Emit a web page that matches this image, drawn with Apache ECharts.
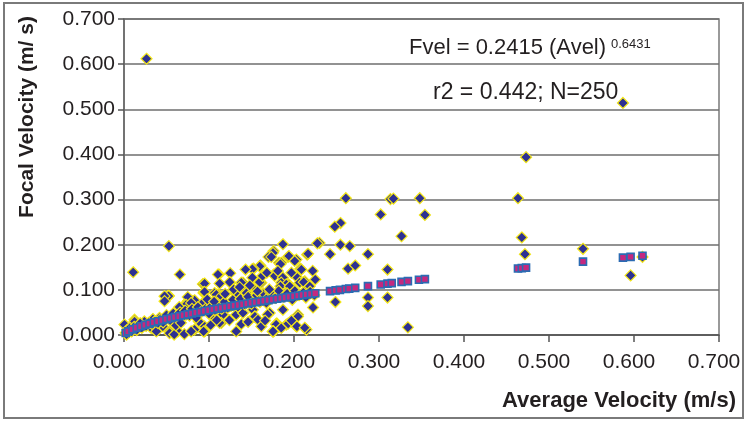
<!DOCTYPE html>
<html>
<head>
<meta charset="utf-8">
<script src="https://cdn.jsdelivr.net/npm/echarts@6/dist/echarts.min.js"></script>
<style>
    html, body { margin: 0; padding: 0; background: #fff; }
    #velocity-chart { width: 747px; height: 421px; }
</style>
</head>
<body>
<div id="velocity-chart"></div>
<script>
    // measured points: [average velocity, focal velocity] in m/s
    const measured = [
        [0.0265,0.612],[0.587,0.514],[0.473,0.394],[0.0528,0.197],[0.0108,0.139],[0.0657,0.134],
        [0.261,0.303],[0.3135,0.301],[0.317,0.302],[0.348,0.303],[0.4635,0.303],[0.2547,0.248],
        [0.248,0.240],[0.302,0.267],[0.354,0.266],[0.3265,0.219],[0.468,0.216],[0.4717,0.179],
        [0.540,0.191],[0.610,0.173],[0.596,0.132],[0.230,0.204],[0.2424,0.179],[0.2546,0.200],
        [0.2656,0.197],[0.287,0.179],[0.2636,0.147],[0.272,0.154],[0.310,0.145],[0.2487,0.073],
        [0.287,0.083],[0.287,0.064],[0.310,0.083],[0.334,0.017],

        [0.187,0.201],[0.2275,0.203],[0.176,0.186],[0.1753,0.182],[0.170,0.173],[0.1733,0.173],
        [0.193,0.173],[0.194,0.175],[0.2155,0.178],[0.2165,0.180],[0.2028,0.167],[0.2008,0.164],
        [0.1823,0.160],[0.185,0.160],[0.184,0.157],[0.1604,0.154],[0.1596,0.152],[0.2075,0.147],
        [0.2087,0.145],[0.1525,0.147],[0.151,0.146],[0.143,0.145],[0.125,0.137],[0.1117,0.134],
        [0.1105,0.134],[0.176,0.134],[0.1773,0.131],[0.2028,0.129],[0.187,0.127],[0.151,0.127],
        [0.2067,0.116],[0.2126,0.119],[0.2114,0.117],[0.1596,0.119],[0.1616,0.116],[0.1596,0.117],
        [0.185,0.116],[0.194,0.112],[0.191,0.112],[0.184,0.108],[0.195,0.108],[0.2165,0.104],
        [0.2185,0.108],[0.140,0.116],[0.138,0.116],[0.125,0.116],[0.1243,0.117],[0.1125,0.114],
        [0.0936,0.112],[0.0928,0.113],[0.0948,0.114],[0.1517,0.104],[0.144,0.100],[0.143,0.097],
        [0.0936,0.093],[0.094,0.0947],[0.0948,0.0955],[0.1066,0.093],[0.1105,0.0895],[0.1086,0.0895],
        [0.1145,0.086],[0.132,0.093],[0.1313,0.093],[0.144,0.093],

        [0.1517,0.071],[0.147,0.075],[0.1675,0.071],[0.2224,0.061],[0.1517,0.056],[0.187,0.056],
        [0.1714,0.049],[0.1537,0.041],[0.154,0.041],[0.169,0.045],[0.2047,0.045],[0.2047,0.041],
        [0.132,0.045],[0.140,0.049],[0.126,0.064],[0.1164,0.045],[0.1046,0.041],[0.1007,0.049],
        [0.1576,0.034],[0.1616,0.019],[0.180,0.025],[0.1793,0.025],[0.179,0.023],[0.191,0.023],
        [0.193,0.025],[0.2028,0.019],[0.2035,0.019],[0.2146,0.012],[0.2126,0.016],[0.185,0.0155],
        [0.176,0.008],[0.175,0.008],[0.1753,0.008],[0.132,0.008],[0.1145,0.0267],[0.1125,0.027],
        [0.0948,0.019],[0.0948,0.008],[0.0936,0.008],[0.083,0.012],[0.081,0.075],[0.083,0.077],
        [0.0928,0.071],[0.083,0.056],[0.075,0.075],[0.075,0.084],[0.0713,0.067],[0.073,0.067],
        [0.079,0.071],[0.065,0.062],[0.0528,0.087],[0.0516,0.086],[0.0524,0.086],[0.0477,0.086],
        [0.0477,0.075],[0.0556,0.034],[0.0645,0.038],[0.073,0.045],[0.0418,0.038],[0.034,0.0355],
        [0.024,0.030],[0.0124,0.034],[0.0124,0.030],[0.0006,0.023],[0.018,0.023],[0.032,0.0155],
        [0.0457,0.019],[0.0536,0.008],[0.0536,0.004],[0.0634,0.008],[0.059,0.001],[0.071,0.002],
        [0.079,0.008],[0.038,0.008],

        [0.002,0.005],[0.004,0.012],[0.003,0.001],[0.007,0.016],[0.009,0.008],[0.012,0.018],
        [0.015,0.011],[0.019,0.026],[0.021,0.016],[0.026,0.020],[0.029,0.027],[0.033,0.024],
        [0.036,0.030],[0.040,0.026],[0.043,0.035],[0.046,0.028],

        [0.050,0.044],[0.055,0.031],[0.058,0.048],[0.062,0.036],[0.066,0.050],[0.069,0.040],
        [0.072,0.054],[0.077,0.043],[0.080,0.058],[0.084,0.046],[0.087,0.062],[0.090,0.050],
        [0.097,0.060],[0.100,0.047],[0.103,0.065],[0.107,0.055],[0.110,0.070],[0.115,0.058],
        [0.118,0.073],[0.122,0.060],[0.128,0.078],[0.134,0.062],[0.137,0.080],[0.142,0.068],
        [0.146,0.085],[0.150,0.069],[0.156,0.088],[0.160,0.073],[0.164,0.092],[0.168,0.080],
        [0.172,0.095],[0.178,0.082],[0.182,0.098],[0.188,0.085],[0.192,0.092],[0.198,0.078],
        [0.201,0.098],[0.206,0.088],[0.211,0.094],[0.214,0.083],[0.219,0.096],[0.224,0.088],

        [0.098,0.079],[0.106,0.074],[0.119,0.091],[0.129,0.101],[0.136,0.106],[0.148,0.110],
        [0.157,0.097],[0.163,0.131],[0.168,0.138],[0.171,0.101],[0.181,0.142],[0.197,0.138],
        [0.222,0.142],[0.225,0.123],[0.088,0.030],[0.102,0.022],[0.124,0.033],[0.138,0.024],
        [0.146,0.029],[0.166,0.032],[0.197,0.032],[0.061,0.021],[0.067,0.027],[0.085,0.038],
        [0.109,0.033]
    ];

    // regression points (Fvel = 0.2415 Avel^0.6431) as plotted
    const fitted = [
        [0.002,0.0044],[0.005,0.0080],[0.010,0.0125],[0.015,0.0162],[0.020,0.0195],[0.025,0.0225],
        [0.030,0.0253],[0.035,0.0280],[0.040,0.0305],[0.045,0.0329],[0.050,0.0352],[0.055,0.0374],
        [0.060,0.0396],[0.065,0.0416],[0.070,0.0437],[0.075,0.0457],[0.080,0.0476],[0.085,0.0495],
        [0.090,0.0513],[0.095,0.0532],[0.100,0.0549],[0.105,0.0567],[0.110,0.0584],[0.115,0.0601],
        [0.120,0.0618],[0.125,0.0634],[0.130,0.0650],[0.135,0.0666],[0.140,0.0682],[0.145,0.0698],
        [0.150,0.0713],[0.155,0.0728],[0.160,0.0743],[0.165,0.0758],[0.170,0.0773],[0.175,0.0787],
        [0.180,0.0802],[0.185,0.0816],[0.190,0.0830],[0.195,0.0844],[0.200,0.0858],[0.205,0.0872],
        [0.210,0.0885],[0.215,0.0899],[0.220,0.0912],[0.225,0.0925],[0.2424,0.0971],[0.249,0.0988],
        [0.254,0.1000],[0.261,0.1018],[0.265,0.1028],[0.272,0.1045],[0.287,0.1082],[0.302,0.1118],
        [0.310,0.1137],[0.315,0.1149],[0.3265,0.1176],[0.334,0.1193],[0.347,0.1223],[0.354,0.1238],
        [0.4635,0.1473],[0.468,0.1482],[0.473,0.1492],[0.540,0.1625],[0.587,0.1714],[0.596,0.1731],
        [0.610,0.1757]
    ];

    const equationText = 'Fvel = 0.2415 (Avel)';
    const exponentText = '0.6431';
    const statsText = 'r2 = 0.442; N=250';

    const font = '"Liberation Sans", Arial, Helvetica, sans-serif';
    const ink = '#231f20';

    let myChart = echarts.init(document.getElementById('velocity-chart'));

    let option = {
        animation: false,
        backgroundColor: '#fff',
        textStyle: { fontFamily: font },
        grid: {
            left: 124, top: 19, width: 595, height: 316,
            show: true, borderColor: '#7a7a7a', borderWidth: 1.5
        },
        xAxis: {
            type: 'value', min: 0, max: 0.7, interval: 0.1,
            axisLine: { show: true, onZero: false, lineStyle: { color: '#555', width: 1.5 } },
            axisTick: { show: true, length: 7, lineStyle: { color: '#555', width: 1.5 } },
            axisLabel: {
                fontSize: 21, color: ink, margin: 17, padding: [0, 10, 0, 0],
                formatter: v => v.toFixed(3)
            },
            splitLine: { show: false }
        },
        yAxis: {
            type: 'value', min: 0, max: 0.7, interval: 0.1,
            axisLine: { show: true, onZero: false, lineStyle: { color: '#666', width: 1.5 } },
            axisTick: { show: true, length: 6, lineStyle: { color: '#555', width: 1.5 } },
            axisLabel: {
                fontSize: 21, color: ink, margin: 9,
                formatter: v => v.toFixed(3)
            },
            splitLine: { show: true, lineStyle: { color: '#6e6e6e', width: 1.5 } }
        },
        graphic: [
            {
                type: 'rect', silent: true,
                shape: { x: 4, y: 3, width: 739, height: 415 },
                style: { fill: 'none', stroke: '#7a7a7a', lineWidth: 2 }
            },
            {
                type: 'text', x: 27, y: 117, rotation: Math.PI / 2,
                style: {
                    text: 'Focal Velocity (m/ s)', font: 'bold 21px ' + font, fill: ink,
                    align: 'center', verticalAlign: 'middle'
                }
            },
            {
                type: 'text', x: 736, y: 401,
                style: {
                    text: 'Average Velocity (m/s)', font: 'bold 22px ' + font, fill: ink,
                    align: 'right', verticalAlign: 'middle'
                }
            },
            {
                type: 'text', x: 409, y: 48,
                style: {
                    text: equationText, font: '22px ' + font, fill: ink,
                    align: 'left', verticalAlign: 'middle'
                }
            },
            {
                type: 'text', x: 611, y: 44,
                style: {
                    text: exponentText, font: '13px ' + font, fill: ink,
                    align: 'left', verticalAlign: 'middle'
                }
            },
            {
                type: 'text', x: 433, y: 93,
                style: {
                    text: statsText, font: '23px ' + font, fill: ink,
                    align: 'left', verticalAlign: 'middle'
                }
            }
        ],
        series: [
            {
                type: 'scatter', symbol: 'diamond', symbolSize: 11,
                data: measured,
                itemStyle: { color: '#2e3192', borderColor: '#f3e617', borderWidth: 1.2, opacity: 1 }
            },
            {
                type: 'scatter', symbol: 'rect', symbolSize: 7,
                data: fitted,
                itemStyle: { color: '#c4287f', borderColor: '#2b6bb3', borderWidth: 1.6, opacity: 1 }
            }
        ]
    };

    myChart.setOption(option);
</script>
</body>
</html>
